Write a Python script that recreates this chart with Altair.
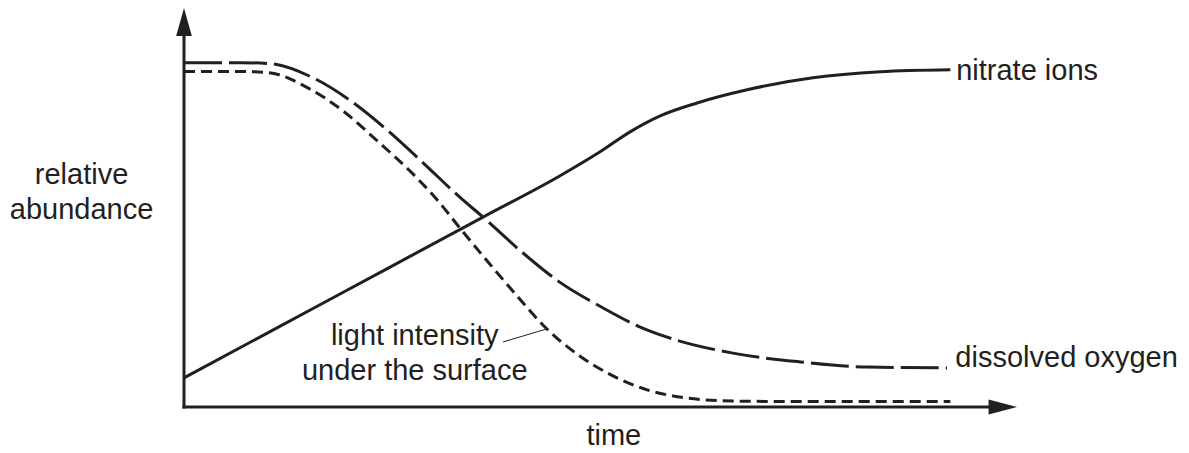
import altair as alt
import pandas as pd

INK = "#231f20"
FONT = "Liberation Sans"

# --- series values (time 0-100, relative abundance 0-100; arbitrary units) ---
nitrate_t = [0, 18, 35.9, 45.1, 49.9, 53.5, 57.1, 61.6, 67.6, 75.5, 83.6, 92.0]
nitrate_a = [7.3, 27.5, 47.6, 57.9, 63.9, 68.9, 72.9, 76.2, 79.5, 82.5, 84.0, 84.5]

oxygen_t = [0, 6.7, 10.1, 15.5, 19.9, 24.4, 28.7, 33.1, 35.9, 40.7, 45.1, 49.9, 54.7, 58.0, 65.9, 74.0, 82.0, 91.6]
oxygen_a = [86.3, 86.3, 86.1, 82.5, 76.9, 69.4, 61.2, 52.6, 47.6, 38.6, 31.3, 25.3, 20.1, 17.5, 13.5, 11.3, 10.0, 9.8]

light_t = [0, 6.7, 10.1, 15.1, 19.1, 23.2, 27.1, 30.4, 33.1, 36.4, 40.0, 43.3, 47.5, 51.5, 55.6, 59.5, 64.4, 70.0, 92.0]
light_a = [84.1, 84.1, 83.8, 79.7, 74.2, 66.7, 59.2, 51.9, 44.9, 36.6, 27.8, 20.1, 12.8, 7.8, 4.3, 2.5, 1.6, 1.4, 1.4]

# axis extents (shaft end, arrow tip)
x_shaft_end, x_tip = 96.8, 100
y_shaft_end, y_tip = 93.0, 100

# leader line for the light label
leader_t = [38.3, 43.6]
leader_a = [16.3, 19.6]

# labels
left_labels = ["nitrate ions", "dissolved oxygen"]
left_t = [92.7, 92.6]
left_a = [81.95, 10.0]

center_labels = ["relative", "abundance", "time", "light intensity", "under the surface"]
center_t = [-12.3, -12.3, 51.6, 27.7, 27.7]
center_a = [55.8, 47.0, -9.5, 15.5, 6.8]

xs = alt.Scale(domain=[0, 100], nice=False, zero=False)
ys = alt.Scale(domain=[0, 100], nice=False, zero=False)


def X(f="t"):
    return alt.X(f"{f}:Q", scale=xs, axis=None)


def Y(f="a"):
    return alt.Y(f"{f}:Q", scale=ys, axis=None)


axes_df = pd.DataFrame({"t": [0, 0], "a": [0, 0], "t2": [x_shaft_end, 0], "a2": [0, y_shaft_end]})
axes = alt.Chart(axes_df).mark_rule(color=INK, strokeWidth=3, strokeCap="square").encode(
    x=X(), y=Y(), x2="t2:Q", y2="a2:Q"
)

yarrow = alt.Chart(pd.DataFrame({"t": [0], "a": [y_tip]})).mark_point(
    shape="M0,0L-0.56,2L0.56,2Z", size=784, filled=True, color=INK, opacity=1, strokeWidth=0
).encode(x=X(), y=Y())
xarrow = alt.Chart(pd.DataFrame({"t": [x_tip], "a": [0]})).mark_point(
    shape="M0,0L-2.03,-0.54L-2.03,0.54Z", size=784, filled=True, color=INK, opacity=1, strokeWidth=0
).encode(x=X(), y=Y())

nitrate = alt.Chart(pd.DataFrame({"t": nitrate_t, "a": nitrate_a})).mark_line(
    color=INK, strokeWidth=3, interpolate="monotone"
).encode(x=X(), y=Y())
oxygen = alt.Chart(pd.DataFrame({"t": oxygen_t, "a": oxygen_a})).mark_line(
    color=INK, strokeWidth=3, interpolate="monotone", strokeDash=[38, 7]
).encode(x=X(), y=Y())
light = alt.Chart(pd.DataFrame({"t": light_t, "a": light_a})).mark_line(
    color=INK, strokeWidth=3, interpolate="monotone", strokeDash=[11, 6]
).encode(x=X(), y=Y())

leader = alt.Chart(pd.DataFrame({"t": [leader_t[0]], "a": [leader_a[0]], "t2": [leader_t[1]], "a2": [leader_a[1]]})).mark_rule(
    color=INK, strokeWidth=1
).encode(x=X(), y=Y(), x2="t2:Q", y2="a2:Q")

ltext = alt.Chart(pd.DataFrame({"t": left_t, "a": left_a, "label": left_labels})).mark_text(
    align="left", baseline="alphabetic", font=FONT, fontSize=29, color=INK
).encode(x=X(), y=Y(), text="label:N")
ctext = alt.Chart(pd.DataFrame({"t": center_t, "a": center_a, "label": center_labels})).mark_text(
    align="center", baseline="alphabetic", font=FONT, fontSize=29, color=INK
).encode(x=X(), y=Y(), text="label:N")

chart = alt.layer(axes, nitrate, oxygen, light, leader, yarrow, xarrow, ltext, ctext).properties(
    width=833,
    height=399,
    autosize=alt.AutoSizeParams(type="none"),
    padding={"left": 176, "top": 0, "right": 164, "bottom": 44},
    background="white",
).configure_view(stroke=None)

chart.save("out.html", embed_options={"renderer": "svg", "actions": False})
